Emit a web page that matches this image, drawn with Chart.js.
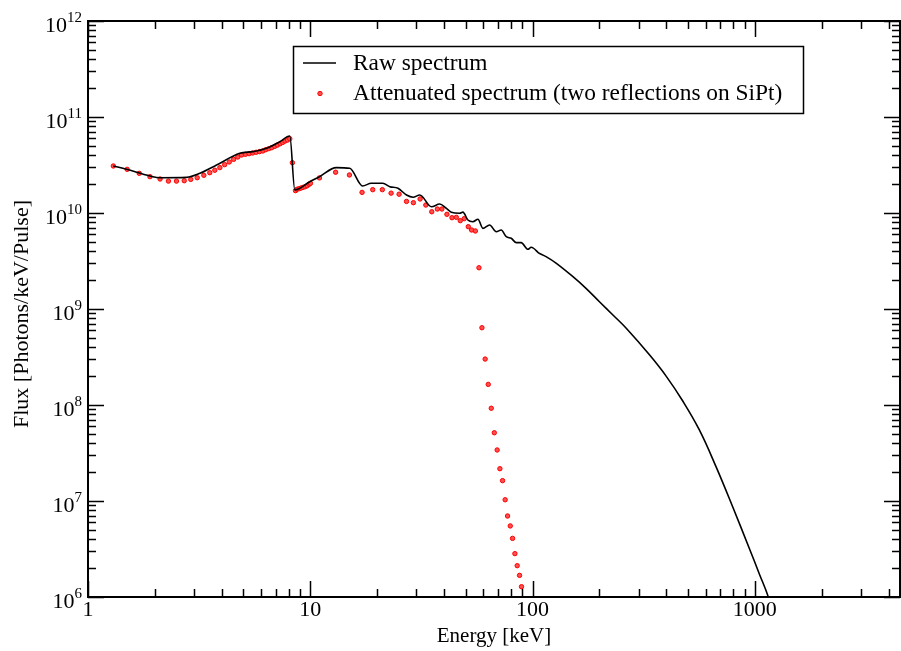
<!DOCTYPE html>
<html>
<head>
<meta charset="utf-8">
<script src="https://cdn.jsdelivr.net/npm/chart.js@4.4.1/dist/chart.umd.min.js"></script>
<style>
  html, body { margin: 0; padding: 0; background: #fff; }
  #wrap { width: 901px; height: 651px; position: relative; }
</style>
</head>
<body>
<div id="wrap"><canvas id="spectrum"></canvas></div>
<script>
// Raw spectrum (black line)
const rawEnergy = [1.30, 1.49, 1.90, 2.11, 2.78, 3.19, 3.79, 4.82, 5.53, 6.36, 7.29, 8.09,
    8.52, 9.95, 11.0, 13.1, 15.05, 17.2, 18.8, 21.2, 22.8, 24.8, 27.1, 29.0, 31.1, 35.1, 38.2,
    40.9, 43.1, 47.0, 48.6, 51.2, 53.9, 56.8, 59.8, 64.1, 68.7, 72.3, 76.2, 80.2, 84.5, 88.9,
    95.3, 98.6, 107, 115, 128, 152, 174, 200, 230, 264, 335, 399, 474, 563, 669, 795, 945, 1047, 1150, 1200];
const rawFlux = [3.09e10, 2.85e10, 2.43e10, 2.33e10, 2.35e10, 2.59e10, 3.16e10, 4.19e10, 4.36e10, 4.72e10, 5.53e10, 6.34e10,
    1.74e10, 2.12e10, 2.39e10, 2.97e10, 2.92e10, 1.91e10, 2.04e10, 2.04e10, 1.88e10, 1.81e10, 1.54e10, 1.46e10, 1.54e10, 1.16e10, 1.24e10,
    1.12e10, 1.02e10, 9.94e9, 1.02e10, 8.45e9, 8.12e9, 8.6e9, 6.92e9, 7.5e9, 6.38e9, 6.65e9, 5.66e9, 5.45e9, 4.91e9, 4.91e9,
    4.19e9, 4.39e9, 3.8e9, 3.51e9, 2.99e9, 2.17e9, 1.64e9, 1.19e9, 8.66e8, 6.3e8, 3.35e8, 2.0e8, 1.10e8, 5.5e7, 2.28e7, 8.7e6, 3.2e6, 1.75e6, 1.0e6, 6.5e5];
// the smooth high-energy tail starts here (107 keV)
const tailStart = 44;

// Attenuated spectrum (red dots)
const attEnergy = [1.30, 1.50, 1.70, 1.90, 2.11, 2.30, 2.50, 2.71, 2.90, 3.10, 3.32, 3.53, 3.72, 3.92,
    4.12, 4.32, 4.52, 4.72, 4.91, 5.11, 5.31, 5.51, 5.71, 5.91, 6.12, 6.31, 6.51, 6.71, 6.93, 7.12,
    7.32, 7.52, 7.70, 7.90, 8.09, 8.31, 8.58, 8.73, 8.91, 9.09, 9.28, 9.48, 9.68, 9.88, 10.02,
    11.0, 13.0, 15.0, 17.1, 19.1, 21.1, 23.1, 25.1, 27.1, 29.1, 31.2, 33.1, 35.2, 37.3, 39.1,
    41.2, 43.4, 45.4, 47.3, 49.3, 51.4, 53.2, 55.3, 57.4, 59.2, 61.2, 63.2, 65.2, 67.3, 69.3,
    71.3, 73.3, 75.3, 77.2, 79.4, 81.3, 83.3, 85.3, 87.4, 89.2];
const attFlux = [3.09e10, 2.85e10, 2.59e10, 2.39e10, 2.26e10, 2.15e10, 2.15e10, 2.17e10, 2.24e10, 2.33e10, 2.47e10, 2.63e10, 2.79e10, 2.97e10,
    3.19e10, 3.40e10, 3.62e10, 3.83e10, 4.02e10, 4.09e10, 4.15e10, 4.22e10, 4.29e10, 4.36e10, 4.43e10, 4.57e10, 4.68e10, 4.79e10, 4.95e10, 5.1e10,
    5.27e10, 5.44e10, 5.62e10, 5.75e10, 5.94e10, 3.34e10, 1.71e10, 1.77e10, 1.79e10, 1.82e10, 1.85e10, 1.88e10, 1.92e10, 1.99e10, 2.04e10,
    2.32e10, 2.66e10, 2.49e10, 1.64e10, 1.75e10, 1.75e10, 1.61e10, 1.57e10, 1.32e10, 1.28e10, 1.40e10, 1.21e10, 1.03e10, 1.10e10, 1.10e10,
    9.69e9, 8.93e9, 9.01e9, 8.32e9, 8.74e9, 7.2e9, 6.65e9, 6.5e9, 2.69e9, 6.38e8, 3.01e8, 1.64e8, 9.25e7, 5.14e7, 3.4e7,
    2.17e7, 1.63e7, 1.03e7, 6.98e6, 5.5e6, 4.08e6, 2.83e6, 2.12e6, 1.68e6, 1.28e6];

// Axis ticks
const xMajorTicks = [1, 10, 100, 1000];
const xTickLabels = ['1', '10', '100', '1000'];
const yExponents = [6, 7, 8, 9, 10, 11, 12];

const legendItems = ['Raw spectrum', 'Attenuated spectrum (two reflections on SiPt)'];

const serif = '"Liberation Serif", "Times New Roman", serif';

function toPoints(xs, ys) {
    return xs.map((x, i) => ({ x: x, y: ys[i] }));
}

const rawPoints = toPoints(rawEnergy, rawFlux);

// Grace-style frame: inward ticks on all four sides, custom labels and legend box
const framePlugin = {
    id: 'frame',
    afterDraw(chart) {
        const ctx = chart.ctx;
        const a = chart.chartArea;
        const xs = chart.scales.x;
        const ys = chart.scales.y;
        ctx.save();
        ctx.strokeStyle = '#000';
        ctx.fillStyle = '#000';

        // frame
        ctx.lineWidth = 2;
        ctx.strokeRect(a.left, a.top, a.right - a.left, a.bottom - a.top);

        // x ticks
        ctx.lineWidth = 1.5;
        for (let d = 1; d <= 1000; d *= 10) {
            for (let m = 1; m <= 9; m++) {
                const v = d * m;
                if (v > xs.max) break;
                const px = Math.round(xs.getPixelForValue(v)) + 0.5;
                const len = m === 1 ? 16 : 8;
                ctx.beginPath();
                ctx.moveTo(px, a.bottom); ctx.lineTo(px, a.bottom - len);
                ctx.moveTo(px, a.top); ctx.lineTo(px, a.top + len);
                ctx.stroke();
            }
        }
        // y ticks
        yExponents.forEach(e => {
            for (let m = 1; m <= 9; m++) {
                const v = m * Math.pow(10, e);
                if (v > ys.max) break;
                const py = Math.round(ys.getPixelForValue(v)) + 0.5;
                const len = m === 1 ? 16 : 8;
                ctx.beginPath();
                ctx.moveTo(a.left, py); ctx.lineTo(a.left + len, py);
                ctx.moveTo(a.right, py); ctx.lineTo(a.right - len, py);
                ctx.stroke();
            }
        });

        // x tick labels
        ctx.font = '22px ' + serif;
        ctx.textAlign = 'center';
        ctx.textBaseline = 'middle';
        xMajorTicks.forEach((v, i) => {
            ctx.fillText(xTickLabels[i], xs.getPixelForValue(v), a.bottom + 13);
        });

        // y tick labels 10^n
        yExponents.forEach(e => {
            const py = ys.getPixelForValue(Math.pow(10, e));
            ctx.font = '22px ' + serif;
            const wBase = ctx.measureText('10').width;
            ctx.font = '15px ' + serif;
            const wExp = ctx.measureText(String(e)).width;
            const x0 = 82 - wBase - wExp;
            ctx.textAlign = 'left';
            ctx.textBaseline = 'alphabetic';
            ctx.font = '22px ' + serif;
            ctx.fillText('10', x0, py + 11);
            ctx.font = '15px ' + serif;
            ctx.fillText(String(e), x0 + wBase, py + 1);
        });

        // axis titles
        ctx.font = '21px ' + serif;
        ctx.textAlign = 'center';
        ctx.textBaseline = 'middle';
        ctx.fillText('Energy [keV]', 494, 636);
        ctx.save();
        ctx.translate(22, 314);
        ctx.rotate(-Math.PI / 2);
        ctx.font = '22px ' + serif;
        ctx.fillText('Flux [Photons/keV/Pulse]', 0, 0);
        ctx.restore();

        // legend box
        ctx.fillStyle = '#fff';
        ctx.fillRect(293, 46, 510, 67);
        ctx.lineWidth = 1.5;
        ctx.strokeStyle = '#000';
        ctx.strokeRect(293.5, 46.5, 510, 67);
        ctx.beginPath();
        ctx.moveTo(303, 63); ctx.lineTo(336, 63);
        ctx.stroke();
        ctx.beginPath();
        ctx.arc(320, 93.5, 2.2, 0, Math.PI * 2);
        ctx.fillStyle = '#ff5050';
        ctx.fill();
        ctx.strokeStyle = '#ff0000';
        ctx.lineWidth = 1;
        ctx.stroke();
        ctx.fillStyle = '#000';
        ctx.font = '23.4px ' + serif;
        ctx.textAlign = 'left';
        ctx.textBaseline = 'alphabetic';
        ctx.fillText(legendItems[0], 353, 70);
        ctx.fillText(legendItems[1], 353, 100);

        ctx.restore();
    }
};

new Chart(document.getElementById('spectrum'), {
    type: 'scatter',
    data: {
        datasets: [
            {
                label: legendItems[0],
                data: rawPoints.slice(0, tailStart + 1),
                showLine: true,
                borderColor: '#000',
                borderWidth: 1.6,
                pointRadius: 0,
                cubicInterpolationMode: 'monotone'
            },
            {
                label: legendItems[0] + ' (tail)',
                data: rawPoints.slice(tailStart),
                showLine: true,
                borderColor: '#000',
                borderWidth: 1.6,
                pointRadius: 0,
                tension: 0.4
            },
            {
                label: legendItems[1],
                data: toPoints(attEnergy, attFlux),
                showLine: false,
                pointRadius: 2.2,
                borderWidth: 1,
                borderColor: '#ff0000',
                backgroundColor: '#ff5050'
            }
        ]
    },
    options: {
        responsive: true,
        maintainAspectRatio: false,
        animation: false,
        layout: { autoPadding: false, padding: { left: 88, top: 21, right: 1, bottom: 54 } },
        plugins: {
            legend: { display: false },
            tooltip: { enabled: false }
        },
        scales: {
            x: { type: 'logarithmic', min: 1, max: 4500, display: false },
            y: { type: 'logarithmic', min: 1e6, max: 1e12, display: false }
        }
    },
    plugins: [framePlugin]
});
</script>
</body>
</html>
